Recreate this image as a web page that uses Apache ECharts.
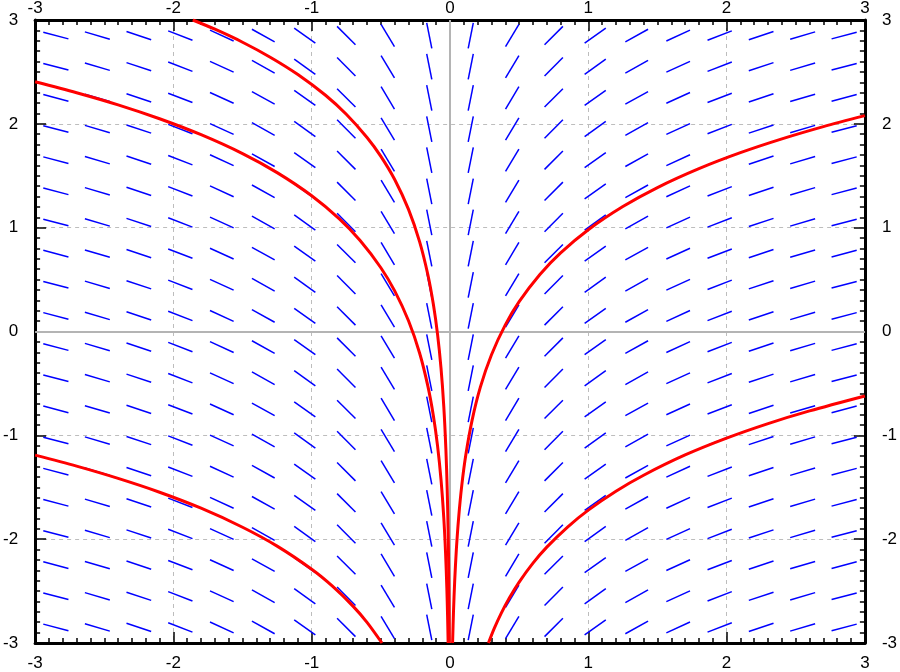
<!DOCTYPE html>
<html>
<head>
<meta charset="utf-8">
<script src="https://cdn.jsdelivr.net/npm/echarts@6/dist/echarts.min.js"></script>
<style>html,body{margin:0;padding:0;background:#fff}#c{width:900px;height:672px}</style>
</head>
<body>
<div id="c"></div>
<script>
// Slope-field grid (cell centres) and slope per column
const fieldX = [-2.85,-2.55,-2.25,-1.95,-1.65,-1.35,-1.05,-0.75,-0.45,-0.15,0.15,0.45,0.75,1.05,1.35,1.65,1.95,2.25,2.55,2.85];
const fieldY = [2.85,2.55,2.25,1.95,1.65,1.35,1.05,0.75,0.45,0.15,-0.15,-0.45,-0.75,-1.05,-1.35,-1.65,-1.95,-2.25,-2.55,-2.85];
const columnSlopes = [-0.351,-0.392,-0.444,-0.513,-0.606,-0.741,-0.952,-1.333,-2.222,-6.667,6.667,2.222,1.333,0.952,0.741,0.606,0.513,0.444,0.392,0.351];

// Solution curves
const curveA = [[-1.86,3.0],[-1.7,2.911],[-1.5,2.786],[-1.3,2.642],[-1.1,2.475],[-0.9,2.275],[-0.75,2.092],[-0.6,1.869],[-0.5,1.687],[-0.4,1.464],[-0.3,1.176],[-0.22,0.866],[-0.16,0.547],[-0.12,0.26],[-0.09,-0.028],[-0.065,-0.353],[-0.045,-0.721],[-0.03,-1.127],[-0.02,-1.532],[-0.013,-1.963],[-0.009,-2.331],[-0.0065,-2.656],[-0.0046,-3.0]];
const curveB = [[-3,2.406],[-2.7,2.3],[-2.4,2.183],[-2.1,2.049],[-1.8,1.895],[-1.5,1.713],[-1.25,1.53],[-1.0,1.307],[-0.8,1.084],[-0.65,0.876],[-0.5,0.614],[-0.4,0.391],[-0.3,0.103],[-0.22,-0.207],[-0.16,-0.526],[-0.12,-0.813],[-0.09,-1.101],[-0.065,-1.426],[-0.045,-1.794],[-0.032,-2.135],[-0.023,-2.465],[-0.0175,-2.739],[-0.0135,-3.0]];
const curveC = [[-3,-1.191],[-2.7,-1.297],[-2.4,-1.415],[-2.1,-1.548],[-1.8,-1.702],[-1.5,-1.885],[-1.25,-2.067],[-1.0,-2.29],[-0.85,-2.453],[-0.7,-2.647],[-0.6,-2.801],[-0.492,-3.0]];
const curveD = [[0.0187,-3.0],[0.025,-2.709],[0.034,-2.401],[0.046,-2.099],[0.062,-1.801],[0.085,-1.485],[0.115,-1.183],[0.16,-0.853],[0.22,-0.534],[0.3,-0.224],[0.4,0.064],[0.5,0.287],[0.65,0.549],[0.8,0.757],[1.0,0.98],[1.25,1.203],[1.5,1.386],[1.8,1.568],[2.1,1.722],[2.4,1.855],[2.7,1.973],[3.0,2.079]];
const curveE = [[0.278,-3.0],[0.32,-2.859],[0.37,-2.714],[0.43,-2.564],[0.5,-2.413],[0.6,-2.231],[0.7,-2.077],[0.85,-1.883],[1.0,-1.72],[1.2,-1.538],[1.4,-1.384],[1.7,-1.189],[2.0,-1.027],[2.3,-0.887],[2.6,-0.765],[3.0,-0.621]];

const fieldData = [];
fieldX.forEach((x, i) => fieldY.forEach(y => fieldData.push([x, y, columnSlopes[i]])));

const FONT = 'Liberation Sans, Arial, sans-serif';
const FS = 17;
function axisCommon(extra) {
  return Object.assign({
    type: 'value', min: -3, max: 3, interval: 1,
    axisLine: { show: true, onZero: false, lineStyle: { color: '#000', width: 3 } },
    axisTick: { show: true, inside: true, length: 11, lineStyle: { color: '#000', width: 1.5 } },
    minorTick: { show: true, splitNumber: 10, length: 5, lineStyle: { color: '#000', width: 1.5 } },
    splitLine: { show: false }
  }, extra);
}

const chart = echarts.init(document.getElementById('c'));
const curveStyle = { color: '#ff0000', width: 3 };
function curve(data) {
  return { type: 'line', data: data, showSymbol: false, smooth: 0.3, lineStyle: curveStyle, itemStyle: { color: '#ff0000' }, clip: true, silent: true, z: 5 };
}
chart.setOption({
  animation: false,
  backgroundColor: '#fff',
  grid: { left: 35, right: 31, top: 19, bottom: 28, containLabel: false },
  xAxis: [
    axisCommon({ position: 'bottom', axisLabel: { color: '#000', fontSize: FS, fontFamily: FONT, margin: 12 },
      splitLine: { show: true, lineStyle: { color: '#bdbdbd', type: [4, 4], width: 1 } } }),
    axisCommon({ position: 'top', axisLabel: { color: '#000', fontSize: FS, fontFamily: FONT, margin: 3 } })
  ],
  yAxis: [
    axisCommon({ position: 'left', axisLabel: { color: '#000', fontSize: FS, fontFamily: FONT, margin: 17 },
      splitLine: { show: true, lineStyle: { color: '#bdbdbd', type: [4, 4], width: 1 } } }),
    axisCommon({ position: 'right', axisLabel: { color: '#000', fontSize: FS, fontFamily: FONT, margin: 17 } })
  ],
  series: [
    {
      type: 'custom', xAxisIndex: 0, yAxisIndex: 0, data: fieldData, silent: true, z: 3,
      markLine: {
        silent: true, symbol: 'none', animation: false,
        label: { show: false },
        lineStyle: { color: '#b4b4b4', type: 'solid', width: 2 },
        data: [{ xAxis: 0 }, { yAxis: 0 }]
      },
      renderItem: function (params, api) {
        const x = api.value(0), y = api.value(1), m = api.value(2);
        const c = api.coord([x, y]);
        const c2 = api.coord([x + 0.01, y + 0.01 * m]);
        const dx = c2[0] - c[0], dy = c2[1] - c[1];
        const L = Math.sqrt(dx * dx + dy * dy);
        const h = 13;
        const ux = dx / L * h, uy = dy / L * h;
        return {
          type: 'line',
          shape: { x1: c[0] - ux, y1: c[1] - uy, x2: c[0] + ux, y2: c[1] + uy },
          style: { stroke: '#0000ff', lineWidth: 1.5 }
        };
      }
    },
    curve(curveA), curve(curveB), curve(curveC), curve(curveD), curve(curveE)
  ]
});
</script>
</body>
</html>
